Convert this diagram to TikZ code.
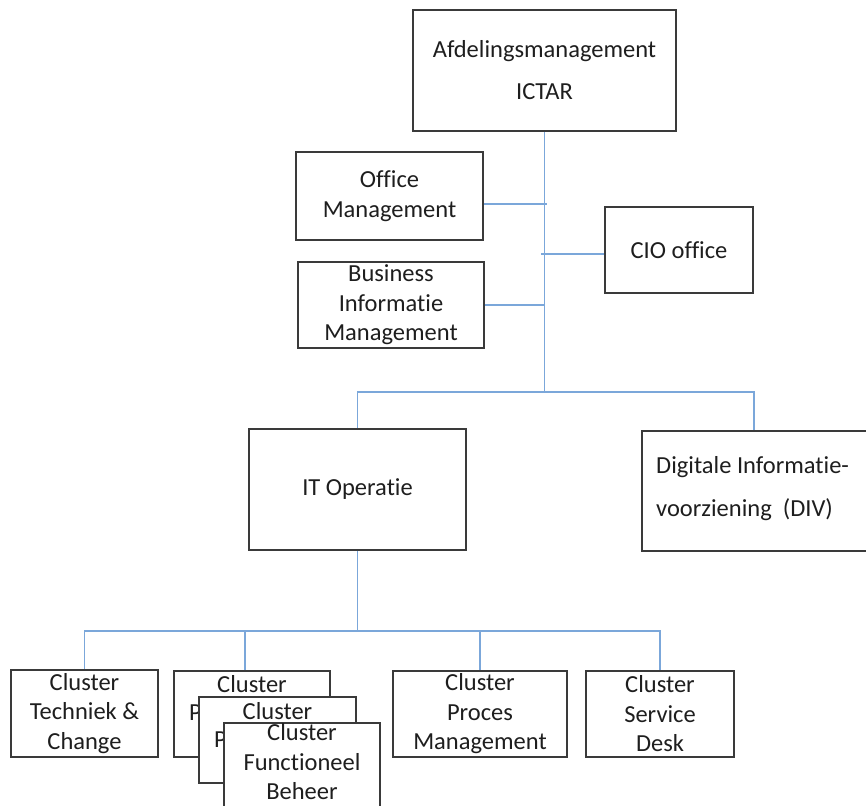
\documentclass[tikz,border=0pt]{standalone}
\usepackage{fontspec}
\setmainfont{Carlito}[RawFeature={-liga;-clig;-calt}]
\definecolor{boxline}{HTML}{3A3A3A}
\definecolor{connc}{HTML}{7BA7DA}
\definecolor{txt}{HTML}{1E1E1E}
\begin{document}
\begin{tikzpicture}[x=1pt,y=-1pt,
  box/.style={draw=boxline, line width=1.6pt, fill=white, inner sep=0pt, align=center, text=txt, font=\fontsize{24.5}{29.5}\selectfont},
  conn/.style={draw=connc, line width=1.5pt},
  lbl/.style={inner sep=0pt, text=txt, align=center, font=\fontsize{24.5}{29.5}\selectfont}]
\useasboundingbox (0,0) rectangle (866,805);

% top level
\node[box, minimum width=263pt, minimum height=121pt, font=\fontsize{24.5}{42}\selectfont] (top) at (544.5,70.5) {Afdelingsmanagement\\ICTAR};
\node[box, minimum width=187pt, minimum height=88pt] (office) at (389.5,196) {Office\\Management};
\node[box, minimum width=148pt, minimum height=86pt] (cio) at (679,250) {CIO office};
\node[box, minimum width=186pt, minimum height=86pt] (bim) at (391,305) {Business\\Informatie\\Management};

% second level
\node[box, minimum width=217pt, minimum height=121pt] (itop) at (357.5,489.5) {IT Operatie};
\node[box, minimum width=260pt, minimum height=120pt, anchor=north west] (div) at (641,430) {};
\node[lbl, anchor=west, align=left, font=\fontsize{24.5}{43}\selectfont] (divt) at (656,489) {Digitale Informatie-\\voorziening\ \ (DIV)};

% clusters
\node[box, minimum width=147pt, minimum height=87pt] (c1) at (84.5,713.5) {Cluster\\Techniek \&\\Change};
\node[box, minimum width=156pt, minimum height=86pt] (c2) at (252,714) {};
\node[lbl] (c2a) at (252,684) {Cluster};
\node[lbl, anchor=west] (c2p) at (189,713) {P};
\node[box, minimum width=157pt, minimum height=86pt] (c3) at (277.5,740) {};
\node[lbl] (c3a) at (277.5,711) {Cluster};
\node[lbl, anchor=west] (c3p) at (214,740) {P};
\node[box, minimum width=156pt, minimum height=86pt, anchor=north] (c4) at (302,722) {};
\node[lbl] (c4t) at (302,762) {Cluster\\Functioneel\\Beheer};
\node[box, minimum width=174pt, minimum height=86pt] (c5) at (480,714) {Cluster\\Proces\\Management};
\node[box, minimum width=148pt, minimum height=86pt] (c6) at (660,714) {Cluster\\Service\\Desk};

% connectors level 1
\draw[conn] (top.south) -- (top.south |- 0,392) coordinate (j1);
\coordinate (offc) at ([yshift=-8pt]office.east);
\draw[conn] (offc) -- ([xshift=2pt]offc -| j1);
\coordinate (cioc) at ([yshift=-4pt]cio.west);
\draw[conn] (cioc) -- ([xshift=-4pt]cioc -| j1);
\draw[conn] (bim.east) -- (bim.east -| j1);
\coordinate (divc) at ([xshift=113pt]div.north west);
\draw[conn] (itop.north) |- (j1) -| (divc);

% connectors level 2
\draw[conn] (itop.south) -- (itop.south |- 0,631) coordinate (j2);
\draw[conn] (c1.north) |- (j2) -| (c6.north);
\coordinate (c2c) at ([xshift=-7pt]c2.north);
\draw[conn] (c2c) -- (c2c |- j2);
\draw[conn] (c5.north) -- (c5.north |- j2);
\end{tikzpicture}
\end{document}
